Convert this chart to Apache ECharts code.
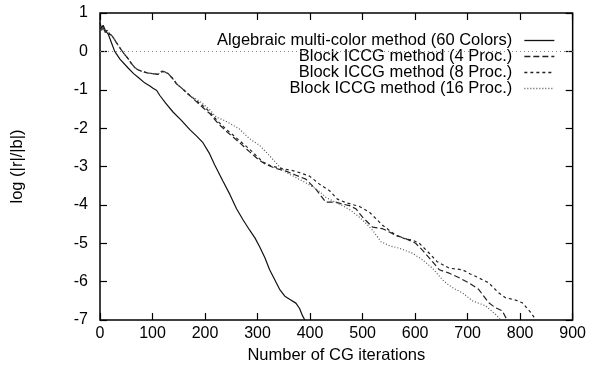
<!DOCTYPE html>
<html>
<head>
<meta charset="utf-8">
<script src="https://cdn.jsdelivr.net/npm/echarts@6/dist/echarts.min.js"></script>
<style>html,body{margin:0;padding:0;background:#fff;}#c{width:589px;height:369px;}</style>
</head>
<body>
<div id="c"></div>
<script>
const seriesNames = [
  "Algebraic multi-color method (60 Colors)",
  "Block ICCG method (4 Proc.)",
  "Block ICCG method (8 Proc.)",
  "Block ICCG method (16 Proc.)"
];
const xTicks = [0, 100, 200, 300, 400, 500, 600, 700, 800, 900];
const yTicks = [-7, -6, -5, -4, -3, -2, -1, 0, 1];

const algX = [0, 3, 6, 10, 16, 22, 28, 38, 54, 64, 73, 85, 95, 101, 108, 114, 125, 139, 155, 171, 185, 196, 208, 218, 234, 247, 260, 272, 285, 295, 304, 314, 323, 333, 342, 352, 361, 373, 380, 386, 390];
const algY = [0.75, 0.6, 0.68, 0.55, 0.44, 0.22, 0.0, -0.2, -0.44, -0.58, -0.68, -0.82, -0.9, -0.96, -1.02, -1.15, -1.35, -1.58, -1.8, -2.04, -2.22, -2.38, -2.65, -2.95, -3.38, -3.72, -4.1, -4.38, -4.66, -4.86, -5.09, -5.38, -5.69, -5.96, -6.2, -6.38, -6.46, -6.56, -6.7, -6.9, -7.0];

// common early part of the Block ICCG curves
const earlyX = [0, 3, 6, 10, 14, 18, 22, 28, 35, 41, 48, 54, 60, 66, 72, 80, 90, 100, 110, 118, 123, 130, 138, 146, 155, 163, 171];
const earlyY = [0.65, 0.55, 0.62, 0.5, 0.55, 0.45, 0.42, 0.3, 0.15, 0.03, -0.1, -0.2, -0.32, -0.42, -0.48, -0.52, -0.56, -0.58, -0.6, -0.52, -0.53, -0.58, -0.7, -0.85, -0.95, -1.05, -1.15];

const p4X = [185, 199, 209, 225, 241, 255, 266, 285, 300, 316, 335, 354, 372, 392, 411, 430, 449, 462, 475, 487, 500, 519, 538, 550, 563, 582, 601, 614, 630, 646, 665, 684, 702, 721, 740, 753, 766, 775];
const p4Y = [-1.33, -1.5, -1.62, -1.88, -2.09, -2.25, -2.38, -2.62, -2.8, -2.95, -3.05, -3.12, -3.22, -3.33, -3.59, -3.93, -3.93, -3.98, -4.02, -4.1, -4.32, -4.58, -4.62, -4.7, -4.79, -4.88, -5.0, -5.18, -5.43, -5.69, -5.78, -5.9, -6.03, -6.2, -6.55, -6.68, -6.76, -7.0];

const p8X = [185, 199, 209, 225, 241, 255, 266, 285, 300, 310, 325, 345, 365, 380, 399, 418, 437, 452, 470, 494, 513, 538, 563, 580, 595, 608, 627, 642, 665, 690, 705, 721, 740, 759, 772, 791, 804, 820, 830];
const p8Y = [-1.3, -1.45, -1.58, -1.83, -2.04, -2.2, -2.33, -2.55, -2.75, -2.88, -2.98, -3.05, -3.1, -3.16, -3.25, -3.46, -3.63, -3.85, -3.95, -4.04, -4.19, -4.53, -4.79, -4.88, -4.92, -5.0, -5.26, -5.48, -5.65, -5.69, -5.8, -5.9, -6.03, -6.29, -6.42, -6.48, -6.55, -6.8, -7.0];

const p16X = [190, 209, 222, 234, 250, 266, 285, 304, 323, 340, 354, 375, 399, 415, 430, 446, 462, 478, 494, 508, 519, 535, 552, 570, 595, 614, 633, 652, 665, 677, 690, 709, 734, 753, 763];
const p16Y = [-1.3, -1.52, -1.72, -1.78, -1.9, -2.03, -2.28, -2.45, -2.72, -2.98, -3.15, -3.3, -3.48, -3.62, -3.8, -3.92, -4.02, -4.15, -4.32, -4.5, -4.66, -4.96, -5.07, -5.13, -5.26, -5.43, -5.65, -5.95, -6.1, -6.2, -6.29, -6.5, -6.63, -6.85, -7.0];

function pairs(xs, ys) { return xs.map((x, i) => [x, ys[i]]); }
const algData = pairs(algX, algY);
const early = pairs(earlyX, earlyY);
const p4Data = early.concat(pairs(p4X, p4Y));
const p8Data = early.concat(pairs(p8X, p8Y));
const p16Data = early.concat(pairs(p16X, p16Y));

const FONT = "Liberation Sans";
const chart = echarts.init(document.getElementById('c'), null, {renderer: 'canvas'});

function lineSeries(name, data, type, width, color) {
  return {
    name: name, type: 'line', data: data, xAxisIndex: 0, yAxisIndex: 0,
    showSymbol: false, symbol: 'none', smooth: false, animation: false,
    lineStyle: {color: color, width: width, type: type},
    itemStyle: {color: color}
  };
}

const s0 = lineSeries(seriesNames[0], algData, 'solid', 1.2, '#111');
s0.markLine = {
  silent: true, symbol: 'none', animation: false,
  label: {show: false},
  lineStyle: {color: '#888', width: 1, type: [1, 3]},
  data: [{yAxis: 0}]
};

const tickStyle = {show: true, inside: true, length: 7, lineStyle: {color: '#000', width: 1.2}};
const hiddenLine = {show: false, onZero: false};

const option = {
  backgroundColor: '#fff',
  animation: false,
  textStyle: {fontFamily: FONT},
  grid: {left: 100, right: 15, top: 13, bottom: 45, show: true, borderColor: '#000', borderWidth: 1.5, containLabel: false},
  legend: {
    show: true,
    data: seriesNames,
    orient: 'vertical', left: 'auto', right: 29, top: 27, bottom: 'auto',
    align: 'right', itemWidth: 30, itemHeight: 16, itemGap: -1,
    itemStyle: {opacity: 0},
    lineStyle: {width: 1.3},
    textStyle: {fontFamily: FONT, fontSize: 16.5, color: '#000', padding: [0, 7, 0, 0]},
    selectedMode: false
  },
  xAxis: [
    {type: 'value', min: 0, max: 900, interval: 100, position: 'bottom',
     name: 'Number of CG iterations', nameLocation: 'middle', nameGap: 27,
     nameTextStyle: {fontFamily: FONT, fontSize: 16.5, color: '#000'},
     axisLine: hiddenLine, splitLine: {show: false},
     axisTick: tickStyle,
     axisLabel: {fontFamily: FONT, fontSize: 16, color: '#000', margin: 6,
       formatter: v => xTicks.includes(v) ? String(v) : ''}},
    {type: 'value', min: 0, max: 900, interval: 100, position: 'top',
     axisLine: hiddenLine, splitLine: {show: false},
     axisTick: tickStyle,
     axisLabel: {show: false}}
  ],
  yAxis: [
    {type: 'value', min: -7, max: 1, interval: 1, position: 'left',
     name: 'log (|r|/|b|)', nameLocation: 'middle', nameGap: 74, nameRotate: 90,
     nameTextStyle: {fontFamily: FONT, fontSize: 16.5, color: '#000'},
     axisLine: hiddenLine, splitLine: {show: false},
     axisTick: tickStyle,
     axisLabel: {fontFamily: FONT, fontSize: 16, color: '#000', margin: 12,
       formatter: v => yTicks.includes(v) ? String(v) : ''}},
    {type: 'value', min: -7, max: 1, interval: 1, position: 'right',
     axisLine: hiddenLine, splitLine: {show: false},
     axisTick: tickStyle,
     axisLabel: {show: false}}
  ],
  series: [
    s0,
    lineSeries(seriesNames[1], p4Data, [6, 3], 1.2, '#222'),
    lineSeries(seriesNames[2], p8Data, [3, 3], 1.2, '#222'),
    lineSeries(seriesNames[3], p16Data, [1, 2], 1.2, '#555')
  ]
};
chart.setOption(option);
</script>
</body>
</html>
